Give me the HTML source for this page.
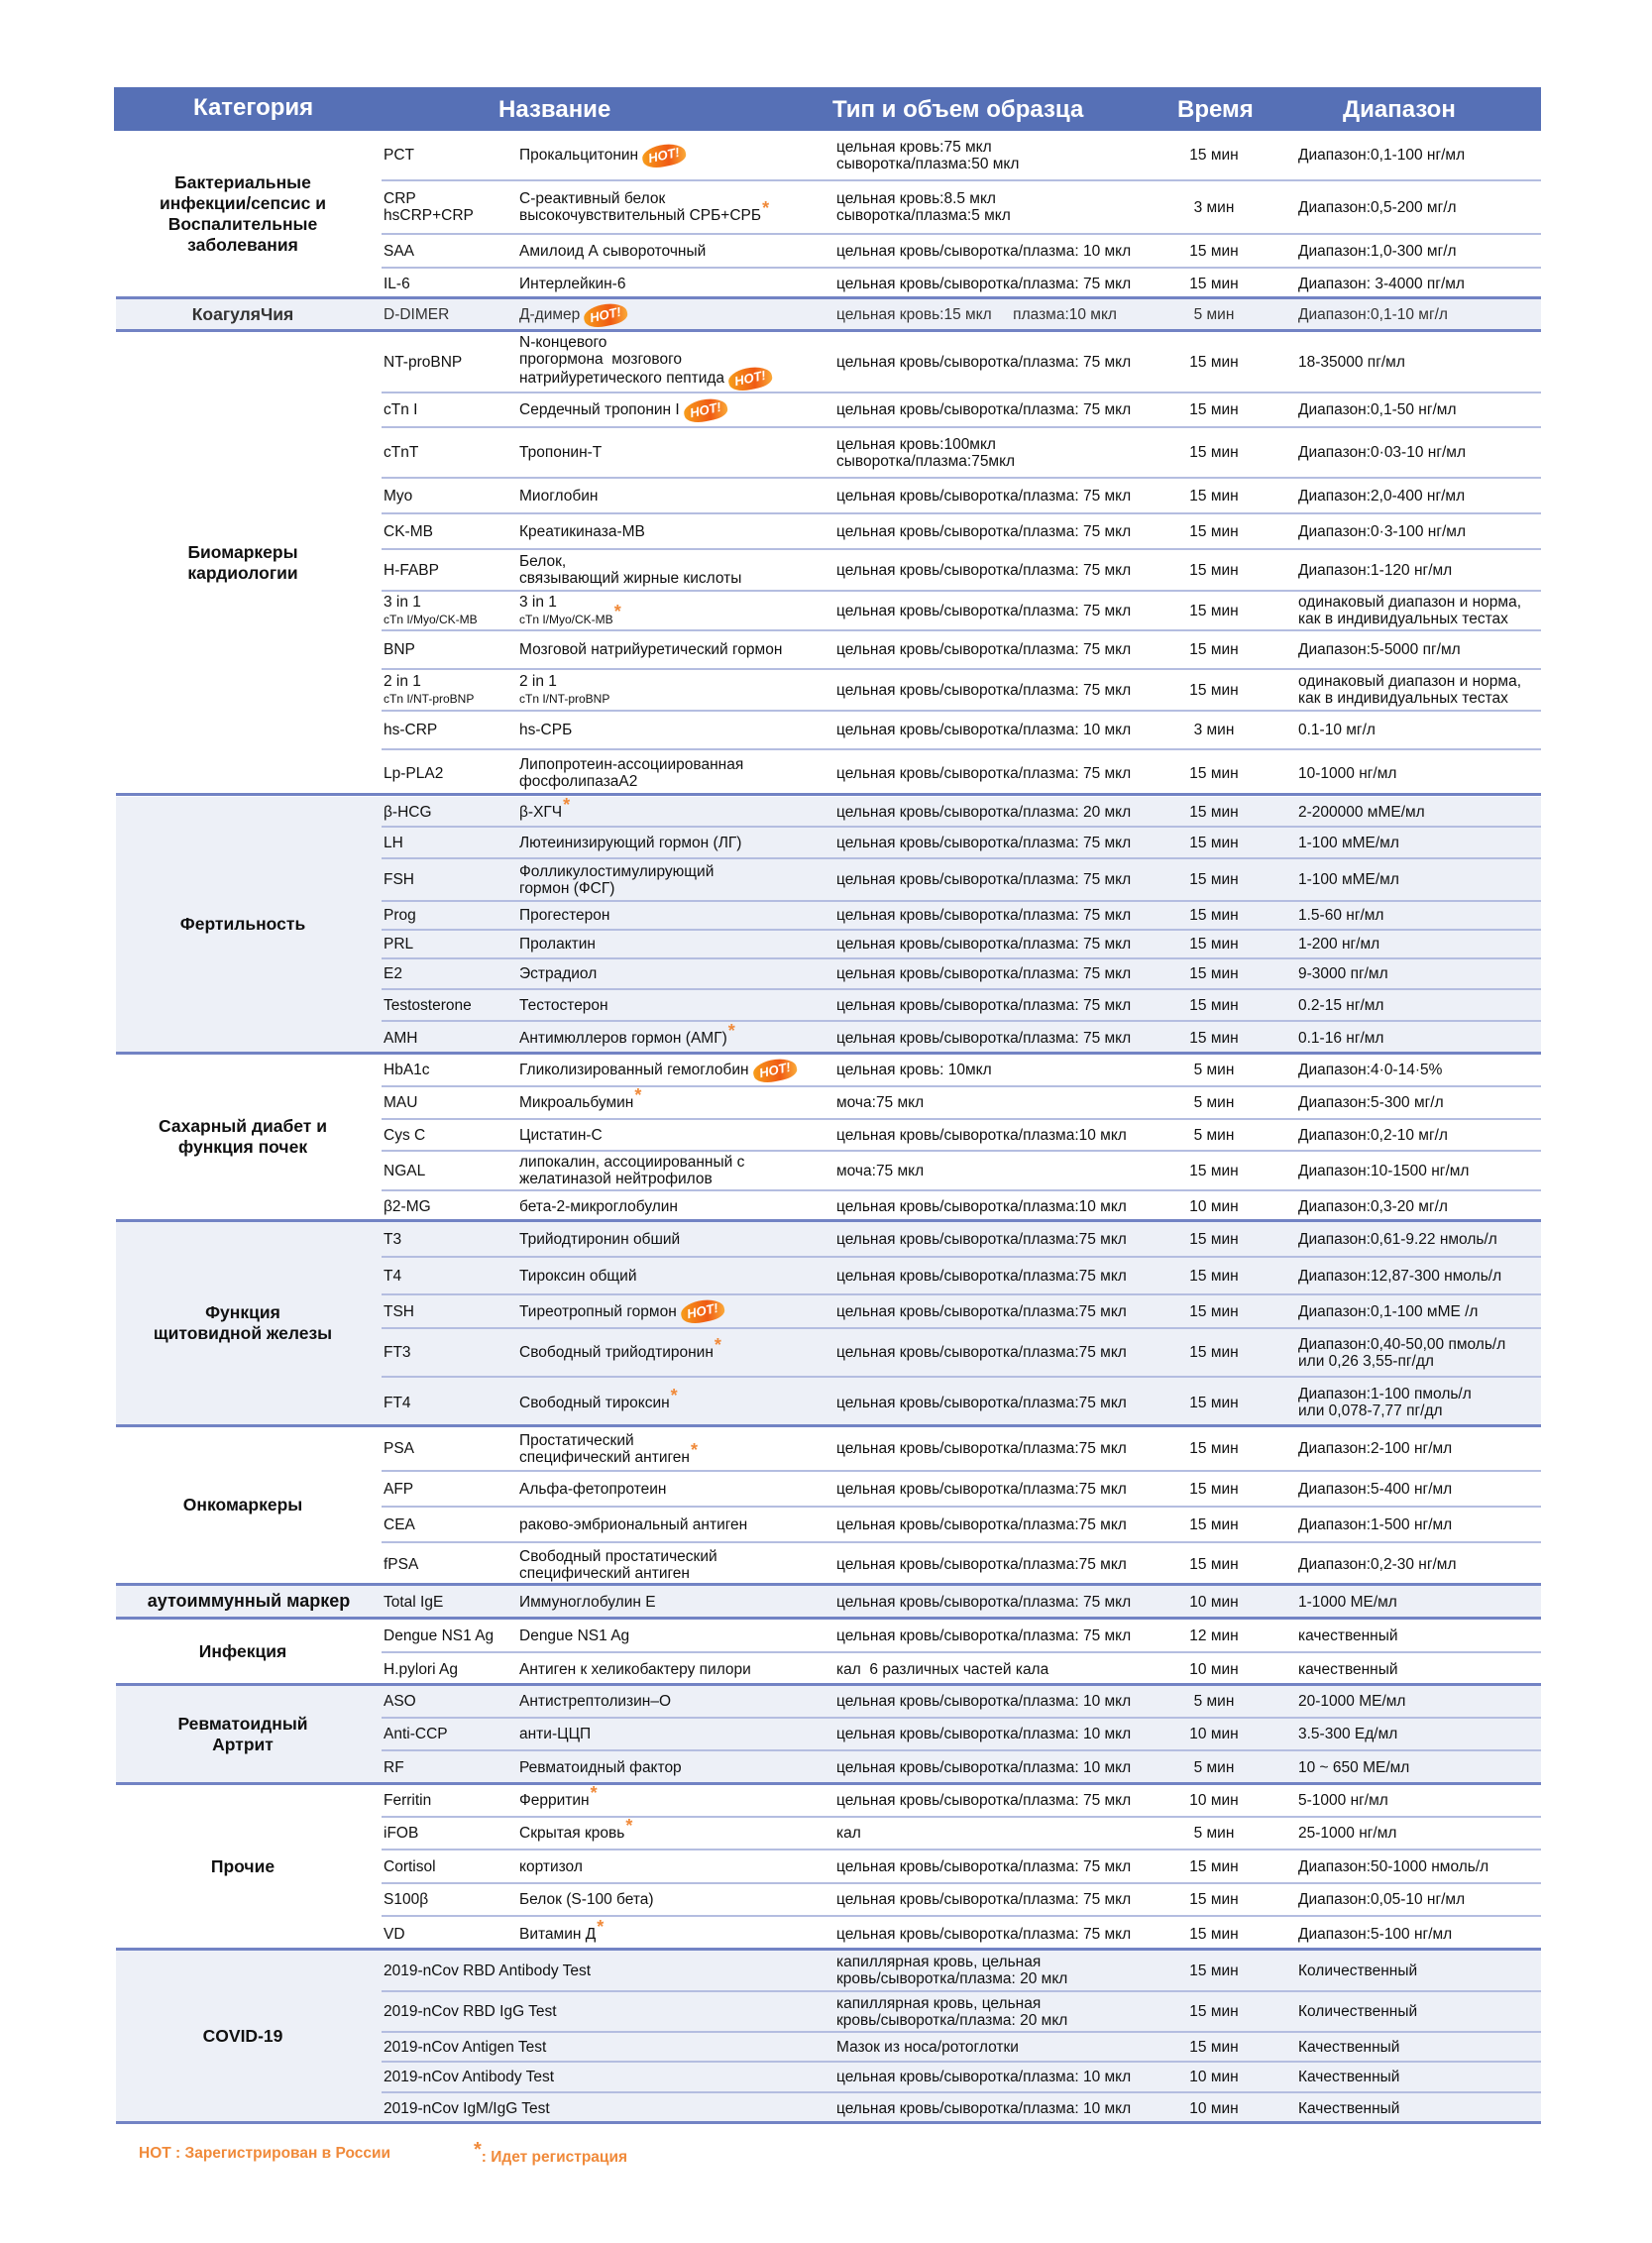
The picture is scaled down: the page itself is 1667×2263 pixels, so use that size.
<!DOCTYPE html>
<html><head><meta charset="utf-8">
<style>
*{margin:0;padding:0;box-sizing:border-box}
body{width:1667px;height:2263px;background:#fff;position:relative;font-family:"Liberation Sans",Arial,sans-serif;color:#111;font-size:15.5px;overflow:hidden}
.hd{position:absolute;left:115px;top:88px;width:1440px;height:44px;background:#5670b6;color:#fff;font-weight:bold;font-size:24px}
.hd span{position:absolute;top:7px}
.sec{position:absolute;left:117px;width:1438px;border-bottom:3px solid #7283c4}
.sh{background:#edf0f7}
.cat{position:absolute;left:0;top:0;width:256px;height:100%;display:flex;align-items:center;justify-content:center;text-align:center;font-weight:bold;font-size:17.5px;line-height:21px}
.r{position:absolute;left:385px;width:1170px;border-bottom:2px solid #b4bde0}
.r.l{border-bottom:none}
.r>div{position:absolute;top:0;height:100%;display:flex;align-items:center;line-height:17px}
.c{left:2px;width:135px}
.n{left:139px;width:320px}
.s{left:459px;width:340px}
.t{left:795px;width:90px;justify-content:center}
.g{left:925px;width:250px}
.sm{font-size:12px}
.st{color:#f08a3a;font-weight:bold;font-size:18px;vertical-align:top;position:relative;top:-7px;margin-left:1px}
.hot{display:inline-block;width:44px;height:22px;border-radius:50% 60% 40% 50%;background:linear-gradient(100deg,#f7a21c,#f05a14 60%,#fbb03b);color:#fff;font-style:italic;font-weight:bold;font-size:13px;line-height:22px;text-align:center;margin-left:4px;transform:rotate(-12deg);vertical-align:middle}
.ft{position:absolute;top:2164px;color:#f08a3a;font-weight:bold;font-size:15.5px}
</style></head><body>
<div class="hd"><span style="left:80px">Категория</span><span style="left:388px;top:9px">Название</span><span style="left:725px;top:9px">Тип и объем образца</span><span style="left:1073px;top:9px">Время</span><span style="left:1240px;top:9px">Диапазон</span></div>

<!-- Bacterial -->
<div class="sec" style="top:132px;height:170px"><div class="cat">Бактериальные<br>инфекции/сепсис и<br>Воспалительные<br>заболевания</div></div>
<div class="r" style="top:132px;height:51px"><div class="c">PCT</div><div class="n">Прокальцитонин<span class="hot">HOT!</span></div><div class="s">цельная кровь:75 мкл<br>сыворотка/плазма:50 мкл</div><div class="t">15 мин</div><div class="g">Диапазон:0,1-100 нг/мл</div></div>
<div class="r" style="top:183px;height:54px"><div class="c">CRP<br>hsCRP+CRP</div><div class="n"><span>С-реактивный белок<br>высокочувствительный СРБ+СРБ<span class="st">*</span></span></div><div class="s">цельная кровь:8.5 мкл<br>сыворотка/плазма:5 мкл</div><div class="t">3 мин</div><div class="g">Диапазон:0,5-200 мг/л</div></div>
<div class="r" style="top:237px;height:34px"><div class="c">SAA</div><div class="n">Амилоид А сывороточный</div><div class="s">цельная кровь/сыворотка/плазма: 10 мкл</div><div class="t">15 мин</div><div class="g">Диапазон:1,0-300 мг/л</div></div>
<div class="r l" style="top:271px;height:31px"><div class="c">IL-6</div><div class="n">Интерлейкин-6</div><div class="s">цельная кровь/сыворотка/плазма: 75 мкл</div><div class="t">15 мин</div><div class="g">Диапазон: 3-4000 пг/мл</div></div>

<!-- Coag -->
<div class="sec sh" style="top:302px;height:33px"><div class="cat" style="color:#333">КоагуляЧия</div></div>
<div class="r l" style="top:302px;height:31px;color:#333"><div class="c">D-DIMER</div><div class="n">Д-димер<span class="hot">HOT!</span></div><div class="s">цельная кровь:15 мкл &nbsp;&nbsp;&nbsp; плазма:10 мкл</div><div class="t">5 мин</div><div class="g">Диапазон:0,1-10 мг/л</div></div>

<!-- Cardio -->
<div class="sec" style="top:335px;height:468px"><div class="cat">Биомаркеры<br>кардиологии</div></div>
<div class="r" style="top:335px;height:62px"><div class="c">NT-proBNP</div><div class="n"><span>N-концевого<br>прогормона&nbsp; мозгового<br>натрийуретического пептида<span class="hot">HOT!</span></span></div><div class="s">цельная кровь/сыворотка/плазма: 75 мкл</div><div class="t">15 мин</div><div class="g">18-35000 пг/мл</div></div>
<div class="r" style="top:397px;height:35px"><div class="c">cTn I</div><div class="n">Сердечный тропонин I <span class="hot">HOT!</span></div><div class="s">цельная кровь/сыворотка/плазма: 75 мкл</div><div class="t">15 мин</div><div class="g">Диапазон:0,1-50 нг/мл</div></div>
<div class="r" style="top:432px;height:51px"><div class="c">cTnT</div><div class="n">Тропонин-Т</div><div class="s">цельная кровь:100мкл<br>сыворотка/плазма:75мкл</div><div class="t">15 мин</div><div class="g">Диапазон:0·03-10 нг/мл</div></div>
<div class="r" style="top:483px;height:36px"><div class="c">Myo</div><div class="n">Миоглобин</div><div class="s">цельная кровь/сыворотка/плазма: 75 мкл</div><div class="t">15 мин</div><div class="g">Диапазон:2,0-400 нг/мл</div></div>
<div class="r" style="top:519px;height:36px"><div class="c">CK-MB</div><div class="n">Креатикиназа-MB</div><div class="s">цельная кровь/сыворотка/плазма: 75 мкл</div><div class="t">15 мин</div><div class="g">Диапазон:0·3-100 нг/мл</div></div>
<div class="r" style="top:555px;height:42px"><div class="c">H-FABP</div><div class="n">Белок,<br>связывающий жирные кислоты</div><div class="s">цельная кровь/сыворотка/плазма: 75 мкл</div><div class="t">15 мин</div><div class="g">Диапазон:1-120 нг/мл</div></div>
<div class="r" style="top:597px;height:40px"><div class="c"><span>3 in 1<br><span class="sm">cTn I/Myo/CK-MB</span></span></div><div class="n"><span>3 in 1<br><span class="sm">cTn I/Myo/CK-MB</span><span class="st">*</span></span></div><div class="s">цельная кровь/сыворотка/плазма: 75 мкл</div><div class="t">15 мин</div><div class="g">одинаковый диапазон и норма,<br>как в индивидуальных тестах</div></div>
<div class="r" style="top:637px;height:39px"><div class="c">BNP</div><div class="n">Мозговой натрийуретический гормон</div><div class="s">цельная кровь/сыворотка/плазма: 75 мкл</div><div class="t">15 мин</div><div class="g">Диапазон:5-5000 пг/мл</div></div>
<div class="r" style="top:676px;height:42px"><div class="c"><span>2 in 1<br><span class="sm">cTn I/NT-proBNP</span></span></div><div class="n"><span>2 in 1<br><span class="sm">cTn I/NT-proBNP</span></span></div><div class="s">цельная кровь/сыворотка/плазма: 75 мкл</div><div class="t">15 мин</div><div class="g">одинаковый диапазон и норма,<br>как в индивидуальных тестах</div></div>
<div class="r" style="top:718px;height:39px"><div class="c">hs-CRP</div><div class="n">hs-СРБ</div><div class="s">цельная кровь/сыворотка/плазма: 10 мкл</div><div class="t">3 мин</div><div class="g">0.1-10 мг/л</div></div>
<div class="r l" style="top:757px;height:46px"><div class="c">Lp-PLA2</div><div class="n">Липопротеин-ассоциированная<br>фосфолипазаA2</div><div class="s">цельная кровь/сыворотка/плазма: 75 мкл</div><div class="t">15 мин</div><div class="g">10-1000 нг/мл</div></div>

<!-- Fertility -->
<div class="sec sh" style="top:804px;height:260px"><div class="cat">Фертильность</div></div>
<div class="r" style="top:806px;height:29px"><div class="c">β-HCG</div><div class="n"><span>β-ХГЧ<span class="st">*</span></span></div><div class="s">цельная кровь/сыворотка/плазма: 20 мкл</div><div class="t">15 мин</div><div class="g">2-200000 мМЕ/мл</div></div>
<div class="r" style="top:835px;height:32px"><div class="c">LH</div><div class="n">Лютеинизирующий гормон (ЛГ)</div><div class="s">цельная кровь/сыворотка/плазма: 75 мкл</div><div class="t">15 мин</div><div class="g">1-100 мМЕ/мл</div></div>
<div class="r" style="top:867px;height:43px"><div class="c">FSH</div><div class="n">Фолликулостимулирующий<br>гормон (ФСГ)</div><div class="s">цельная кровь/сыворотка/плазма: 75 мкл</div><div class="t">15 мин</div><div class="g">1-100 мМЕ/мл</div></div>
<div class="r" style="top:910px;height:29px"><div class="c">Prog</div><div class="n">Прогестерон</div><div class="s">цельная кровь/сыворотка/плазма: 75 мкл</div><div class="t">15 мин</div><div class="g">1.5-60 нг/мл</div></div>
<div class="r" style="top:939px;height:29px"><div class="c">PRL</div><div class="n">Пролактин</div><div class="s">цельная кровь/сыворотка/плазма: 75 мкл</div><div class="t">15 мин</div><div class="g">1-200 нг/мл</div></div>
<div class="r" style="top:968px;height:31px"><div class="c">E2</div><div class="n">Эстрадиол</div><div class="s">цельная кровь/сыворотка/плазма: 75 мкл</div><div class="t">15 мин</div><div class="g">9-3000 пг/мл</div></div>
<div class="r" style="top:999px;height:32px"><div class="c">Testosterone</div><div class="n">Тестостерон</div><div class="s">цельная кровь/сыворотка/плазма: 75 мкл</div><div class="t">15 мин</div><div class="g">0.2-15 нг/мл</div></div>
<div class="r l" style="top:1031px;height:32px"><div class="c">AMH</div><div class="n"><span>Антимюллеров гормон (АМГ)<span class="st">*</span></span></div><div class="s">цельная кровь/сыворотка/плазма: 75 мкл</div><div class="t">15 мин</div><div class="g">0.1-16 нг/мл</div></div>

<!-- Diabetes -->
<div class="sec" style="top:1064px;height:169px"><div class="cat">Сахарный диабет и<br>функция почек</div></div>
<div class="r" style="top:1064px;height:33px"><div class="c">HbA1c</div><div class="n">Гликолизированный гемоглобин<span class="hot">HOT!</span></div><div class="s">цельная кровь: 10мкл</div><div class="t">5 мин</div><div class="g">Диапазон:4·0-14·5%</div></div>
<div class="r" style="top:1097px;height:33px"><div class="c">MAU</div><div class="n"><span>Микроальбумин<span class="st">*</span></span></div><div class="s">моча:75 мкл</div><div class="t">5 мин</div><div class="g">Диапазон:5-300 мг/л</div></div>
<div class="r" style="top:1130px;height:32px"><div class="c">Cys C</div><div class="n">Цистатин-С</div><div class="s">цельная кровь/сыворотка/плазма:10 мкл</div><div class="t">5 мин</div><div class="g">Диапазон:0,2-10 мг/л</div></div>
<div class="r" style="top:1162px;height:40px"><div class="c">NGAL</div><div class="n">липокалин, ассоциированный с<br>желатиназой нейтрофилов</div><div class="s">моча:75 мкл</div><div class="t">15 мин</div><div class="g">Диапазон:10-1500 нг/мл</div></div>
<div class="r l" style="top:1202px;height:31px"><div class="c">β2-MG</div><div class="n">бета-2-микроглобулин</div><div class="s">цельная кровь/сыворотка/плазма:10 мкл</div><div class="t">10 мин</div><div class="g">Диапазон:0,3-20 мг/л</div></div>

<!-- Thyroid -->
<div class="sec sh" style="top:1233px;height:207px"><div class="cat">Функция<br>щитовидной железы</div></div>
<div class="r" style="top:1233px;height:36px"><div class="c">T3</div><div class="n">Трийодтиронин обший</div><div class="s">цельная кровь/сыворотка/плазма:75 мкл</div><div class="t">15 мин</div><div class="g">Диапазон:0,61-9.22 нмоль/л</div></div>
<div class="r" style="top:1269px;height:38px"><div class="c">T4</div><div class="n">Тироксин общий</div><div class="s">цельная кровь/сыворотка/плазма:75 мкл</div><div class="t">15 мин</div><div class="g">Диапазон:12,87-300 нмоль/л</div></div>
<div class="r" style="top:1307px;height:34px"><div class="c">TSH</div><div class="n">Тиреотропный гормон<span class="hot">HOT!</span></div><div class="s">цельная кровь/сыворотка/плазма:75 мкл</div><div class="t">15 мин</div><div class="g">Диапазон:0,1-100 мМЕ /л</div></div>
<div class="r" style="top:1341px;height:49px"><div class="c">FT3</div><div class="n"><span>Свободный трийодтиронин<span class="st">*</span></span></div><div class="s">цельная кровь/сыворотка/плазма:75 мкл</div><div class="t">15 мин</div><div class="g">Диапазон:0,40-50,00 пмоль/л<br>или 0,26 3,55-пг/дл</div></div>
<div class="r l" style="top:1390px;height:50px"><div class="c">FT4</div><div class="n"><span>Свободный тироксин<span class="st">*</span></span></div><div class="s">цельная кровь/сыворотка/плазма:75 мкл</div><div class="t">15 мин</div><div class="g">Диапазон:1-100 пмоль/л<br>или 0,078-7,77 пг/дл</div></div>

<!-- Onco -->
<div class="sec" style="top:1440px;height:160px"><div class="cat">Онкомаркеры</div></div>
<div class="r" style="top:1440px;height:45px"><div class="c">PSA</div><div class="n"><span>Простатический<br>специфический антиген<span class="st">*</span></span></div><div class="s">цельная кровь/сыворотка/плазма:75 мкл</div><div class="t">15 мин</div><div class="g">Диапазон:2-100 нг/мл</div></div>
<div class="r" style="top:1485px;height:36px"><div class="c">AFP</div><div class="n">Альфа-фетопротеин</div><div class="s">цельная кровь/сыворотка/плазма:75 мкл</div><div class="t">15 мин</div><div class="g">Диапазон:5-400 нг/мл</div></div>
<div class="r" style="top:1521px;height:36px"><div class="c">CEA</div><div class="n">раково-эмбриональный антиген</div><div class="s">цельная кровь/сыворотка/плазма:75 мкл</div><div class="t">15 мин</div><div class="g">Диапазон:1-500 нг/мл</div></div>
<div class="r l" style="top:1557px;height:43px"><div class="c">fPSA</div><div class="n">Свободный простатический<br>специфический антиген</div><div class="s">цельная кровь/сыворотка/плазма:75 мкл</div><div class="t">15 мин</div><div class="g">Диапазон:0,2-30 нг/мл</div></div>

<!-- Autoimmune -->
<div class="sec sh" style="top:1600px;height:34px"><div class="cat" style="width:268px;font-size:18px">аутоиммунный маркер</div></div>
<div class="r l" style="top:1600px;height:32px"><div class="c">Total IgE</div><div class="n">Иммуноглобулин E</div><div class="s">цельная кровь/сыворотка/плазма: 75 мкл</div><div class="t">10 мин</div><div class="g">1-1000 МЕ/мл</div></div>

<!-- Infection -->
<div class="sec" style="top:1634px;height:67px"><div class="cat">Инфекция</div></div>
<div class="r" style="top:1634px;height:34px"><div class="c">Dengue NS1 Ag</div><div class="n">Dengue NS1 Ag</div><div class="s">цельная кровь/сыворотка/плазма: 75 мкл</div><div class="t">12 мин</div><div class="g">качественный</div></div>
<div class="r l" style="top:1668px;height:33px"><div class="c">H.pylori Ag</div><div class="n">Антиген к хеликобактеру пилори</div><div class="s">кал&nbsp; 6 различных частей кала</div><div class="t">10 мин</div><div class="g">качественный</div></div>

<!-- Rheum -->
<div class="sec sh" style="top:1701px;height:100px"><div class="cat">Ревматоидный<br>Артрит</div></div>
<div class="r" style="top:1701px;height:33px"><div class="c">ASO</div><div class="n">Антистрептолизин–O</div><div class="s">цельная кровь/сыворотка/плазма: 10 мкл</div><div class="t">5 мин</div><div class="g">20-1000 МЕ/мл</div></div>
<div class="r" style="top:1734px;height:33px"><div class="c">Anti-CCP</div><div class="n">анти-ЦЦП</div><div class="s">цельная кровь/сыворотка/плазма: 10 мкл</div><div class="t">10 мин</div><div class="g">3.5-300 Ед/мл</div></div>
<div class="r l" style="top:1767px;height:33px"><div class="c">RF</div><div class="n">Ревматоидный фактор</div><div class="s">цельная кровь/сыворотка/плазма: 10 мкл</div><div class="t">5 мин</div><div class="g">10 ~ 650 МЕ/мл</div></div>

<!-- Others -->
<div class="sec" style="top:1801px;height:167px"><div class="cat">Прочие</div></div>
<div class="r" style="top:1801px;height:33px"><div class="c">Ferritin</div><div class="n"><span>Ферритин<span class="st">*</span></span></div><div class="s">цельная кровь/сыворотка/плазма: 75 мкл</div><div class="t">10 мин</div><div class="g">5-1000 нг/мл</div></div>
<div class="r" style="top:1834px;height:33px"><div class="c">iFOB</div><div class="n"><span>Скрытая кровь<span class="st">*</span></span></div><div class="s">кал</div><div class="t">5 мин</div><div class="g">25-1000 нг/мл</div></div>
<div class="r" style="top:1867px;height:34px"><div class="c">Cortisol</div><div class="n">кортизол</div><div class="s">цельная кровь/сыворотка/плазма: 75 мкл</div><div class="t">15 мин</div><div class="g">Диапазон:50-1000 нмоль/л</div></div>
<div class="r" style="top:1901px;height:33px"><div class="c">S100β</div><div class="n">Белок (S-100 бета)</div><div class="s">цельная кровь/сыворотка/плазма: 75 мкл</div><div class="t">15 мин</div><div class="g">Диапазон:0,05-10 нг/мл</div></div>
<div class="r l" style="top:1934px;height:34px"><div class="c">VD</div><div class="n"><span>Витамин Д<span class="st">*</span></span></div><div class="s">цельная кровь/сыворотка/плазма: 75 мкл</div><div class="t">15 мин</div><div class="g">Диапазон:5-100 нг/мл</div></div>

<!-- COVID -->
<div class="sec sh" style="top:1968px;height:175px"><div class="cat">COVID-19</div></div>
<div class="r" style="top:1968px;height:42px"><div class="c" style="width:300px">2019-nCov RBD Antibody Test</div><div class="s">капиллярная кровь, цельная<br>кровь/сыворотка/плазма: 20 мкл</div><div class="t">15 мин</div><div class="g">Количественный</div></div>
<div class="r" style="top:2010px;height:41px"><div class="c" style="width:300px">2019-nCov RBD IgG Test</div><div class="s">капиллярная кровь, цельная<br>кровь/сыворотка/плазма: 20 мкл</div><div class="t">15 мин</div><div class="g">Количественный</div></div>
<div class="r" style="top:2051px;height:30px"><div class="c" style="width:300px">2019-nCov Antigen Test</div><div class="s">Мазок из носа/ротоглотки</div><div class="t">15 мин</div><div class="g">Качественный</div></div>
<div class="r" style="top:2081px;height:31px"><div class="c" style="width:300px">2019-nCov Antibody Test</div><div class="s">цельная кровь/сыворотка/плазма: 10 мкл</div><div class="t">10 мин</div><div class="g">Качественный</div></div>
<div class="r l" style="top:2112px;height:31px"><div class="c" style="width:300px">2019-nCov IgM/IgG Test</div><div class="s">цельная кровь/сыворотка/плазма: 10 мкл</div><div class="t">10 мин</div><div class="g">Качественный</div></div>

<div class="ft" style="left:140px">HOT : Зарегистрирован в России</div>
<div class="ft" style="left:478px"><span style="font-size:20px;position:relative;top:-6px">*</span>: Идет регистрация</div>
</body></html>
